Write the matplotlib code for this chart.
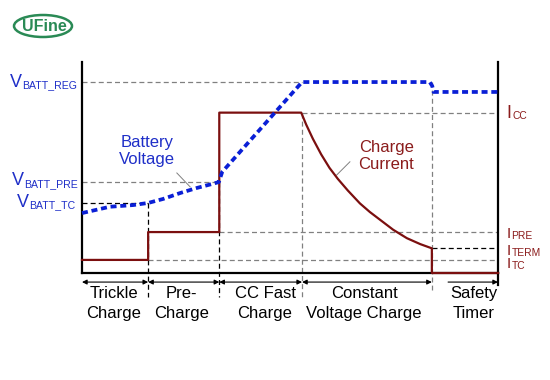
import matplotlib
matplotlib.use('Agg')
import matplotlib.pyplot as plt
from matplotlib.patches import Ellipse

plt.rcParams['font.family'] = ['Liberation Sans', 'DejaVu Sans']

# phase boundaries (time, % of total)
phase_edges = [0, 15.9, 33.0, 52.9, 84.1, 100]
phase_names = [('Trickle', 'Charge'), ('Pre-', 'Charge'), ('CC Fast', 'Charge'),
               ('Constant', 'Voltage Charge'), ('Safety', 'Timer')]
phase_centers = [7.7, 23.9, 44.0, 67.8, 94.2]

# levels (% of full scale)
v_reg, v_pre, v_tc = 90.5, 43.1, 33.2
i_cc, i_pre, i_term, i_tc = 76.0, 19.4, 11.7, 6.2

# battery voltage curve
volt_t = [0, 6.7, 12.3, 15.9, 19.5, 23.6, 27.6, 31.3, 32.9, 33.7, 52.9, 83.6, 84.2, 84.5, 100]
volt_v = [28.4, 31.4, 32.2, 33.2, 35.1, 37.9, 40.3, 42.2, 43.1, 47.9, 90.5, 90.5, 88.6, 85.8, 85.8]

# charge current curve
curr_t = [0, 15.9, 15.9, 33.0, 33.0, 52.7, 53.9, 55.5, 57.5, 59.5, 61.5, 63.9, 66.8,
          69.2, 71.6, 74.8, 78.1, 81.3, 84.1, 84.1, 100]
curr_i = [6.2, 6.2, 19.4, 19.4, 76.0, 76.0, 70.3, 63.6, 56.2, 49.8, 44.6, 39.1, 33.0,
          28.9, 25.3, 20.5, 16.5, 13.7, 11.7, 0, 0]

# axis level labels: (main letter x, subscript x, baseline y, main, subscript)
v_labels = [(-17.3, -14.4, 88.2, 'V', 'BATT_REG'),
            (-16.8, -14.0, 41.7, 'V', 'BATT_PRE'),
            (-15.6, -12.6, 31.4, 'V', 'BATT_TC')]
i_labels = [(102.1, 103.4, 73.3, 'I', 'CC', 13),
            (102.1, 103.2, 16.4, 'I', 'PRE', 11),
            (102.1, 103.2, 8.7, 'I', 'TERM', 11),
            (102.1, 103.2, 2.5, 'I', 'TC', 11)]

BLUE = '#0a1fd6'
BLUE_TXT = '#1f2fc8'
RED = '#7b0f0f'
RED_TXT = '#8b1c1c'
GRAY = '#808080'
GREEN = '#2a8a55'

fig = plt.figure(figsize=(5.5, 3.8), dpi=100)
ax = fig.add_axes([82 / 550, 1 - 273 / 380, 416 / 550, 211 / 380])
ax.set_xlim(0, 100)
ax.set_ylim(0, 100)
ax.set_xticks([])
ax.set_yticks([])
ax.spines['top'].set_visible(False)
for s in ['left', 'right', 'bottom']:
    ax.spines[s].set_linewidth(1.6)

dash = dict(linestyle=(0, (4, 2.5)), linewidth=0.9, clip_on=False)

# horizontal guide lines
ax.plot([0, phase_edges[3]], [v_reg, v_reg], color=GRAY, **dash)
ax.plot([0, phase_edges[2]], [v_pre, v_pre], color=GRAY, **dash)
ax.plot([0, phase_edges[1]], [v_tc, v_tc], color='black', **dash)
ax.plot([phase_edges[3], 100], [i_cc, i_cc], color=GRAY, **dash)
ax.plot([phase_edges[2], 100], [i_pre, i_pre], color=GRAY, **dash)
ax.plot([phase_edges[4], 100], [i_term, i_term], color='black', **dash)
ax.plot([phase_edges[1], 100], [i_tc, i_tc], color=GRAY, **dash)

# vertical phase lines
ax.plot([phase_edges[1]] * 2, [v_tc, -11.4], color='black', **dash)
ax.plot([phase_edges[2]] * 2, [v_pre, -11.4], color='black', **dash)
ax.plot([phase_edges[3]] * 2, [i_cc, -11.4], color=GRAY, **dash)
ax.plot([phase_edges[4]] * 2, [v_reg, -8.0], color=GRAY, **dash)
ax.plot([100, 100], [0, -5.5], color='black', lw=1.6, clip_on=False)

# curves
ax.plot(curr_t, curr_i, color=RED, lw=1.6, clip_on=False, zorder=4)
ax.plot(volt_t, volt_v, color=BLUE, lw=2.7, dashes=(1.6, 1.0),
        dash_capstyle='butt', clip_on=False, zorder=5)

# curve labels
ax.text(15.6, 57.8, 'Battery\nVoltage', color=BLUE_TXT, fontsize=12,
        ha='center', va='center', linespacing=1.15)
ax.plot([22.8, 26.0], [47.4, 40.8], color=GRAY, lw=0.7)
ax.text(73.1, 55.5, 'Charge\nCurrent', color=RED_TXT, fontsize=12,
        ha='center', va='center', linespacing=1.15)
ax.plot([61.2, 64.4], [46.4, 52.7], color=GRAY, lw=0.7)

# level labels with small subscripts
for xm, xs, y, main, sub in v_labels:
    ax.text(xm, y, main, color=BLUE_TXT, fontsize=13, ha='left', va='baseline', clip_on=False)
    ax.text(xs, y - 0.8, sub, color=BLUE_TXT, fontsize=7.6, ha='left', va='baseline', clip_on=False)
for xm, xs, y, main, sub, fs in i_labels:
    ax.text(xm, y, main, color=RED_TXT, fontsize=fs, ha='left', va='baseline', clip_on=False)
    ax.text(xs, y - 0.5, sub, color=RED_TXT, fontsize=7.4, ha='left', va='baseline', clip_on=False)

# phase arrows
arrow_y = -4.3
for k in range(4):
    ax.annotate('', xy=(phase_edges[k + 1], arrow_y), xytext=(phase_edges[k], arrow_y),
                arrowprops=dict(arrowstyle='<|-|>', mutation_scale=7, lw=0.8,
                                color='black', shrinkA=0, shrinkB=0),
                annotation_clip=False)
ax.annotate('', xy=(100, arrow_y), xytext=(88.0, arrow_y),
            arrowprops=dict(arrowstyle='-|>', mutation_scale=7, lw=0.8,
                            color='black', shrinkA=0, shrinkB=0),
            annotation_clip=False)

for (l1, l2), xc in zip(phase_names, phase_centers):
    ax.text(xc, -11.8, l1, fontsize=12, ha='center', va='baseline', clip_on=False)
    ax.text(xc, -21.3, l2, fontsize=12, ha='center', va='baseline', clip_on=False)

# logo
fig.patches.append(Ellipse((43 / 550, 1 - 26 / 380), 58 / 550, 22 / 380,
                           transform=fig.transFigure, fill=False,
                           edgecolor=GREEN, lw=1.8))
fig.text(44 / 550, 1 - 26.5 / 380, 'UFine', color=GREEN, fontsize=11.5,
         fontweight='bold', ha='center', va='center')

fig.savefig('out.png', dpi=100)
